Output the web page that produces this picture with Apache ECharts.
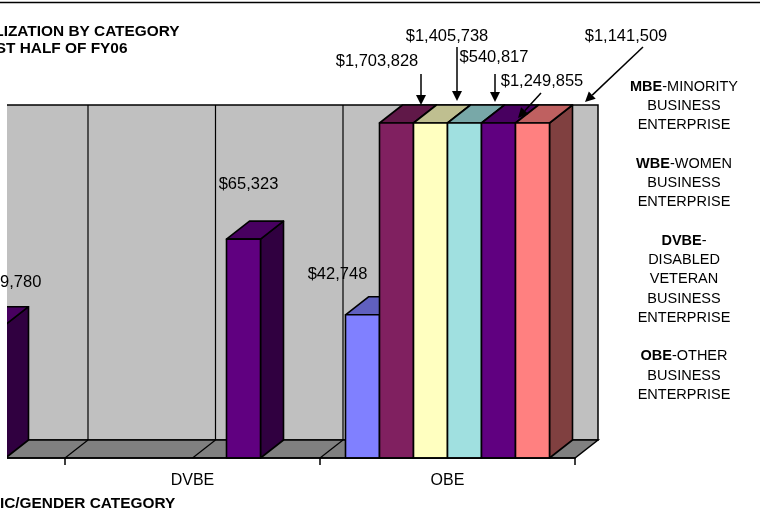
<!DOCTYPE html>
<html>
<head>
<meta charset="utf-8">
<title>Utilization by category</title>
<script src="https://cdn.jsdelivr.net/npm/echarts@6/dist/echarts.min.js"></script>
<style>
  html, body { margin: 0; padding: 0; background: #fff; }
  #main { width: 760px; height: 531px; }
</style>
</head>
<body>
<div id="main"></div>
<script>
// categories on the x axis (the picture only shows the right part of the chart)
var categories = ['WBE', 'DVBE', 'OBE'];

// one array per coloured series, in category order
var blueVals   = [null, null, 42748];
var plumVals   = [null, null, 1703828];
var yellowVals = [null, null, 1405738];
var cyanVals   = [null, null, 540817];
var purpleVals = [39780, 65323, 1249855];
var salmonVals = [null, null, 1141509];

var valueMax = 100000;

// side notes on the right
var noteLines = [
    ['MBE', '-MINORITY'], ['', 'BUSINESS'], ['', 'ENTERPRISE'], null,
    ['WBE', '-WOMEN'], ['', 'BUSINESS'], ['', 'ENTERPRISE'], null,
    ['DVBE', '-'], ['', 'DISABLED'], ['', 'VETERAN'], ['', 'BUSINESS'], ['', 'ENTERPRISE'], null,
    ['OBE', '-OTHER'], ['', 'BUSINESS'], ['', 'ENTERPRISE']
];

var allSeries = [blueVals, plumVals, yellowVals, cyanVals, purpleVals, salmonVals];
var colors = ['#8080ff', '#802060', '#ffffc0', '#a0e0e0', '#600080', '#ff8080'];

var FONT = '"Liberation Sans", Arial, sans-serif';
var DX = 23, DY = 18;          // 3d depth of bars/walls
var GAP = 0.1;                 // gap on each side of a category band

function shade(hex, k) {
    var n = parseInt(hex.slice(1), 16);
    var r = Math.round(((n >> 16) & 255) * k);
    var g = Math.round(((n >> 8) & 255) * k);
    var b = Math.round((n & 255) * k);
    return 'rgb(' + r + ',' + g + ',' + b + ')';
}

function money(v) {
    return '$' + v.toLocaleString('en-US');
}

// bar geometry from the axes
function barBox(api, si, ci, v) {
    var band = api.size([1, 0])[0];
    var c = api.coord([ci, Math.min(v, valueMax)]);
    var base = api.coord([ci, 0]);
    var w = band * (1 - 2 * GAP) / allSeries.length;
    var x = c[0] - band / 2 + band * GAP + si * w;
    return { x: x, y: c[1], w: w, bottom: base[1] };
}

function bar3d(si) {
    return function (params, api) {
        var v = api.value(1);
        if (v == null || isNaN(v)) return;
        var b = barBox(api, si, api.value(0), v);
        var col = colors[si];
        var edge = { stroke: '#000', lineWidth: 1.6, lineJoin: 'round' };
        return {
            type: 'group',
            children: [
                { type: 'polygon', shape: { points: [[b.x + b.w, b.y], [b.x + b.w + DX, b.y - DY], [b.x + b.w + DX, b.bottom - DY], [b.x + b.w, b.bottom]] },
                  style: Object.assign({ fill: shade(col, 0.5) }, edge) },
                { type: 'polygon', shape: { points: [[b.x, b.y], [b.x + DX, b.y - DY], [b.x + b.w + DX, b.y - DY], [b.x + b.w, b.y]] },
                  style: Object.assign({ fill: shade(col, 0.75) }, edge) },
                { type: 'rect', shape: { x: b.x, y: b.y, width: b.w, height: b.bottom - b.y },
                  style: Object.assign({ fill: col }, edge) }
            ]
        };
    };
}

// back wall + floor
function walls(params, api) {
    var cs = params.coordSys;
    var band = api.size([1, 0])[0];
    var bottom = cs.y + cs.height;
    var kids = [
        { type: 'rect', shape: { x: cs.x + DX, y: cs.y - DY, width: cs.width, height: cs.height },
          style: { fill: '#c0c0c0', stroke: '#000', lineWidth: 1.5 } },
        { type: 'polygon', shape: { points: [[cs.x, bottom], [cs.x + cs.width, bottom], [cs.x + cs.width + DX, bottom - DY], [cs.x + DX, bottom - DY]] },
          style: { fill: '#808080', stroke: '#000', lineWidth: 1.5 } }
    ];
    for (var k = 1; k < categories.length * 2; k++) {
        var xk = cs.x + k * band / 2;
        kids.push({ type: 'line', shape: { x1: xk + DX, y1: cs.y - DY, x2: xk + DX, y2: bottom - DY }, style: { stroke: '#000', lineWidth: 1.2 } });
        kids.push({ type: 'line', shape: { x1: xk, y1: bottom, x2: xk + DX, y2: bottom - DY }, style: { stroke: '#000', lineWidth: 1.2 } });
    }
    return { type: 'group', children: kids };
}

// plain data labels: [series, category, shift x, shift y] from the bar's front top centre
var labelNudge = [[4, 0, 23, -42], [4, 1, 5, -55], [0, 2, -25, -40]];
var labelData = labelNudge.map(function (n) {
    return [n[1], allSeries[n[0]][n[1]], n[0], n[2], n[3]];
});

function labelItem(params, api) {
    var si = api.value(2);
    var b = barBox(api, si, api.value(0), api.value(1));
    return {
        type: 'text',
        style: {
            text: money(api.value(1)),
            x: b.x + b.w / 2 + api.value(3), y: b.y + api.value(4),
            align: 'center', verticalAlign: 'middle', textAlign: 'center', textVerticalAlign: 'middle',
            font: '16.5px ' + FONT, fill: '#000'
        }
    };
}

// arrow annotations for the OBE bars cut off at the top
var arrowNotes = [
    { s: 1, tx: 377, ty: 61, from: [421, 74], to: [421, 105] },
    { s: 2, tx: 447, ty: 36, from: [457, 47], to: [457, 101] },
    { s: 3, tx: 494, ty: 57, from: [495, 74], to: [495, 102] },
    { s: 4, tx: 542, ty: 81, from: [541, 93], to: [518, 118] },
    { s: 5, tx: 626, ty: 36, from: [643, 47], to: [585, 102] }
];

function txt(text, x, y, font, align, extra) {
    var st = { text: text, x: x, y: y, font: font, fill: '#000',
               align: align, textAlign: align, verticalAlign: 'middle', textVerticalAlign: 'middle' };
    if (extra) Object.assign(st, extra);
    return { type: 'text', z: 10, style: st };
}

var graphics = [];
graphics.push({ type: 'line', z: 10, shape: { x1: 0, y1: 2.5, x2: 760, y2: 2.5 }, style: { stroke: '#000', lineWidth: 1.5 } });
graphics.push(txt('UTILIZATION BY CATEGORY', -30.5, 32, 'bold 15.4px ' + FONT, 'left'));
graphics.push(txt('FIRST HALF OF FY06', -29, 49, 'bold 15.4px ' + FONT, 'left'));
graphics.push(txt('ETHNIC/GENDER CATEGORY', -42, 504, 'bold 15.4px ' + FONT, 'left'));
// white strip over the left edge of the plot
graphics.push({ type: 'rect', z: 5, shape: { x: 0, y: 95, width: 7, height: 380 }, style: { fill: '#fff' } });

arrowNotes.forEach(function (a) {
    var v = allSeries[a.s][categories.length - 1];
    graphics.push(txt(money(v), a.tx, a.ty, '16.5px ' + FONT, 'center'));
    var ang = Math.atan2(a.to[1] - a.from[1], a.to[0] - a.from[0]);
    var L = 10, W = 5;
    var bx = a.to[0] - L * Math.cos(ang), by = a.to[1] - L * Math.sin(ang);
    var px = -Math.sin(ang) * W, py = Math.cos(ang) * W;
    graphics.push({ type: 'line', z: 10, shape: { x1: a.from[0], y1: a.from[1], x2: bx, y2: by }, style: { stroke: '#000', lineWidth: 1.5 } });
    graphics.push({ type: 'polygon', z: 10, shape: { points: [a.to, [bx + px, by + py], [bx - px, by - py]] }, style: { fill: '#000' } });
});

noteLines.forEach(function (ln, i) {
    if (!ln) return;
    var y = 86.7 + i * 19.27;
    graphics.push({
        type: 'text', z: 10,
        style: {
            text: (ln[0] ? '{b|' + ln[0] + '}' : '') + '{n|' + ln[1] + '}',
            x: 684, y: y,
            align: 'center', textAlign: 'center', verticalAlign: 'middle', textVerticalAlign: 'middle',
            rich: {
                b: { font: 'bold 14.5px ' + FONT, fill: '#000', fontWeight: 'bold', fontSize: 14.5, fontFamily: FONT },
                n: { font: '14.5px ' + FONT, fill: '#000', fontSize: 14.5, fontFamily: FONT }
            }
        }
    });
});

var myChart = echarts.init(document.getElementById('main'));

var series = [{
    type: 'custom', z: 1, clip: false, silent: true,
    renderItem: walls, data: [[0, 0]]
}];
allSeries.forEach(function (vals, si) {
    series.push({
        type: 'custom', name: 'Series ' + (si + 1), z: 2, clip: false,
        renderItem: bar3d(si),
        data: vals.map(function (v, ci) { return [ci, v]; })
    });
});
series.push({ type: 'custom', z: 10, clip: false, silent: true, renderItem: labelItem, data: labelData });

var option = {
    backgroundColor: '#fff',
    animation: false,
    grid: { left: -190, right: 185, top: 123, bottom: 73, containLabel: false, outerBoundsMode: 'none' },
    xAxis: {
        type: 'category',
        data: categories,
        axisLine: { lineStyle: { color: '#000', width: 1.5 } },
        axisTick: { show: true, length: 7, lineStyle: { color: '#000', width: 1.5 } },
        axisLabel: { color: '#000', fontSize: 16, fontFamily: FONT, margin: 14.5 },
        splitLine: { show: false },
        z: 3
    },
    yAxis: { type: 'value', min: 0, max: valueMax, show: false },
    series: series,
    graphic: graphics
};

myChart.setOption(option);
</script>
</body>
</html>
